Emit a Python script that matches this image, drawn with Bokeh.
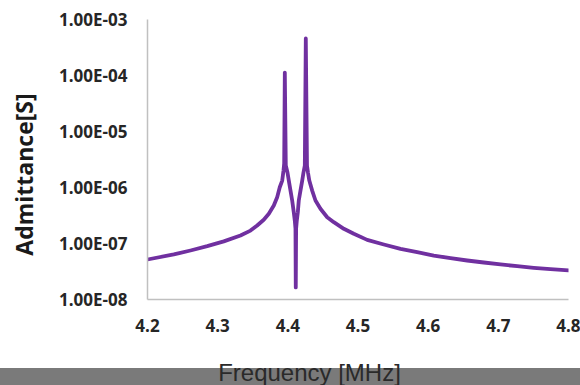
from bokeh.plotting import figure
from bokeh.models import FixedTicker, CustomJSTickFormatter, Label, Range1d
from bokeh.embed import file_html
from bokeh.resources import INLINE

# Admittance sweep of the resonator, two resonance peaks near 4.40 and 4.43 MHz
freq_mhz = [
    4.2000, 4.2375, 4.2613, 4.2851, 4.3087, 4.3325, 4.3468, 4.3563, 4.3657,
    4.3729, 4.3800, 4.3848, 4.3885, 4.3920, 4.3938, 4.3948,
    4.3957,
    4.3971, 4.3995, 4.4014, 4.4038, 4.4062, 4.4085, 4.4099, 4.4109,
    4.4113,
    4.4118, 4.4128, 4.4142, 4.4156, 4.4180, 4.4205, 4.4223, 4.4242,
    4.4256,
    4.4273, 4.4287, 4.4306, 4.4347, 4.4394, 4.4465, 4.4561, 4.4655, 4.4798,
    4.4940, 4.5131, 4.5368, 4.5606, 4.5843, 4.6080, 4.6318, 4.6556, 4.6793,
    4.7031, 4.7269, 4.7505, 4.7743, 4.8000,
]
admittance_s = [
    5.18e-8, 6.37e-8, 7.5e-8, 8.95e-8, 1.09e-7, 1.39e-7, 1.7e-7, 2.1e-7, 2.65e-7,
    3.39e-7, 4.77e-7, 6.7e-7, 1.01e-6, 1.33e-6, 2.0e-6, 2.7e-6,
    1.13e-4,
    2.47e-6, 1.85e-6, 1.33e-6, 8.8e-7, 5.86e-7, 3.58e-7, 2.58e-7, 1.85e-7,
    1.64e-8,
    1.85e-7, 2.58e-7, 3.58e-7, 5.86e-7, 8.8e-7, 1.33e-6, 1.85e-6, 2.47e-6,
    4.58e-4,
    2.47e-6, 1.85e-6, 1.33e-6, 8.8e-7, 5.86e-7, 4.17e-7, 2.95e-7, 2.4e-7, 1.83e-7,
    1.49e-7, 1.16e-7, 9.6e-8, 8.0e-8, 7.0e-8, 6.1e-8, 5.47e-8, 4.97e-8, 4.58e-8,
    4.22e-8, 3.94e-8, 3.68e-8, 3.48e-8, 3.3e-8,
]

x_ticks = [4.2, 4.3, 4.4, 4.5, 4.6, 4.7, 4.8]
x_tick_labels = ["4.2", "4.3", "4.4", "4.5", "4.6", "4.7", "4.8"]
y_ticks = [1e-8, 1e-7, 1e-6, 1e-5, 1e-4, 1e-3]
y_tick_labels = ["1.00E-08", "1.00E-07", "1.00E-06", "1.00E-05", "1.00E-04", "1.00E-03"]

p = figure(
    width=580, height=385,
    y_axis_type="log",
    x_range=Range1d(4.2, 4.8), y_range=Range1d(1e-8, 1e-3),
    output_backend="svg", toolbar_location=None,
    min_border_left=147, min_border_right=12,
    min_border_top=19, min_border_bottom=86,
    background_fill_color="white", border_fill_color="white",
)
p.outline_line_color = None
p.xgrid.visible = False
p.ygrid.visible = False

p.line(freq_mhz, admittance_s, line_color="#7030A0", line_width=3.8,
       line_join="round", line_cap="round")

label_font = "Open Sans"

p.xaxis.ticker = FixedTicker(ticks=x_ticks)
p.xaxis.formatter = CustomJSTickFormatter(
    args=dict(tvals=x_ticks, tlabels=x_tick_labels),
    code="""
let best = 0;
for (let i = 0; i < tvals.length; i++) {
  if (Math.abs(tvals[i] - tick) < Math.abs(tvals[best] - tick)) best = i;
}
return tlabels[best];
""")
p.yaxis.ticker = FixedTicker(ticks=y_ticks)
p.yaxis.formatter = CustomJSTickFormatter(
    args=dict(tvals=y_ticks, tlabels=y_tick_labels),
    code="""
let best = 0;
const lt = Math.log10(tick);
for (let i = 0; i < tvals.length; i++) {
  if (Math.abs(Math.log10(tvals[i]) - lt) < Math.abs(Math.log10(tvals[best]) - lt)) best = i;
}
return tlabels[best];
""")

for ax in (p.xaxis[0], p.yaxis[0]):
    ax.axis_line_color = "#c0c0c0"
    ax.axis_line_width = 1.5
    ax.major_tick_line_color = None
    ax.minor_tick_line_color = None
    ax.major_label_text_font = label_font
    ax.major_label_text_font_style = "bold"
    ax.major_label_text_font_size = "17px"
    ax.major_label_text_color = "#262626"

p.xaxis.major_label_standoff = 13
p.yaxis.major_label_standoff = 14

# vertical axis title
ytitle = Label(x=23, y=174, x_units="canvas", y_units="canvas",
               text="Admittance[S]", angle=1.5707963, angle_units="rad",
               text_align="center", text_baseline="middle",
               text_font=label_font, text_font_style="bold",
               text_font_size="23px", text_color="#1a1a1a")
p.add_layout(ytitle, "left")

# grey strip along the bottom edge: a wide blank text box with a filled background
band = Label(x=290, y=376, x_units="canvas", y_units="canvas",
             text="\u2003" * 42, text_align="center", text_baseline="middle",
             text_font="Liberation Sans", text_font_size="15px",
             text_color="#7a7a7a",
             background_fill_color="#7a7a7a", background_fill_alpha=1.0)
p.add_layout(band, "below")

xtitle = Label(x=309, y=372, x_units="canvas", y_units="canvas",
               text="Frequency [MHz]", text_align="center", text_baseline="middle",
               text_font="Liberation Sans", text_font_size="24px",
               text_color="#2a2a2a")
p.add_layout(xtitle, "below")

open("out.html", "w").write(file_html(p, INLINE))
